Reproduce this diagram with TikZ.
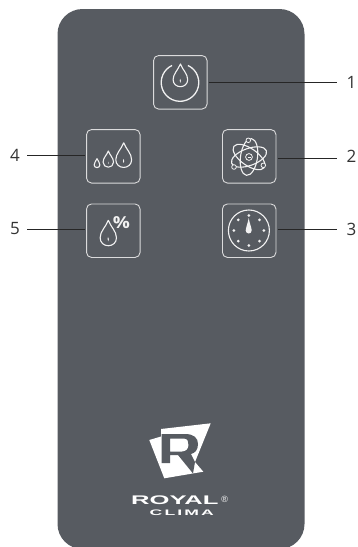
\documentclass[tikz,border=0pt]{standalone}
\usepackage{fontspec}
\setsansfont{Open Sans}
\newfontfamily\logofont{Liberation Sans}
\definecolor{panelgray}{HTML}{575B61}
\definecolor{iconwhite}{HTML}{F2F2F2}
\tikzset{
  panel/.style={fill=panelgray, rounded corners=25pt},
  keybox/.style={draw=iconwhite!85!panelgray, line width=0.9pt, rounded corners=5pt,
    minimum size=53.5pt, inner sep=0pt, outer sep=1.6pt},
  numlabel/.style={font=\sffamily\fontsize{17}{17}\selectfont, text=black!80, inner sep=0pt},
  leader/.style={draw=black!85, line width=0.8pt},
  iconline/.style={draw=iconwhite, line width=1.1pt},
  logotext/.style={text=white, inner sep=0pt},
  pics/drop/.style={code={
    \draw[iconline, line join=round] (0,-1) .. controls (0.18,-0.55) and (0.52,-0.3) .. (0.52,0.12)
      .. controls (0.52,0.42) and (0.28,0.62) .. (0,0.62)
      .. controls (-0.28,0.62) and (-0.52,0.42) .. (-0.52,0.12)
      .. controls (-0.52,-0.3) and (-0.18,-0.55) .. cycle;
    \fill[iconwhite] (-0.02,0.05) .. controls (0.02,0.15) and (0.08,0.25) .. (0,0.34)
      .. controls (-0.07,0.25) and (-0.05,0.15) .. cycle;
  }}
}
\begin{document}
\begin{tikzpicture}[x=1pt, y=-1pt]
  \useasboundingbox (0,0) rectangle (358,547);
  % body of the remote
  \fill[panel] (57.5,9) rectangle (304.5,549);

  % keys
  \node[keybox] (keypower) at (180.3,82.3) {};
  \node[keybox] (keyion) at (249.2,156.3) {};
  \node[keybox] (keytimer) at (249.2,230.7) {};
  \node[keybox] (keyfan) at (113.3,156.3) {};
  \node[keybox] (keyhum) at (113.3,230.7) {};

  % numbers
  \node[numlabel, anchor=west] (num1) at (346.5,82) {1};
  \node[numlabel, anchor=west] (num2) at (346.5,156) {2};
  \node[numlabel, anchor=west] (num3) at (346.5,229) {3};
  \node[numlabel, anchor=east] (num4) at (20,155) {4};
  \node[numlabel, anchor=east] (num5) at (20,229) {5};

  \coordinate (end1) at (337,82.7);
  \coordinate (end2) at (337,158.3);
  \coordinate (end3) at (337,229);
  \coordinate (end4) at (27,155);
  \coordinate (end5) at (27,229);
  \draw[leader] (keypower.east |- end1) -- (end1);
  \draw[leader] (keyion.east |- end2) -- (end2);
  \draw[leader] (keytimer.east |- end3) -- (end3);
  \draw[leader] (keyfan.west |- end4) -- (end4);
  \draw[leader] (keyhum.west |- end5) -- (end5);

  % power icon
  \draw[iconline, line width=1.3pt] (180,82.5) ++(-65:18.8) arc[start angle=-65, end angle=245, radius=18.8];
  \pic[scale=14] at (180.4,78) {drop};

  % drops
  \pic[scale=5.5] at (97,164.2) {drop};
  \pic[scale=10] at (108.3,161) {drop};
  \pic[scale=15.2] at (123.7,158) {drop};

  % humidity
  \pic[scale=15.7] at (108.3,236) {drop};
  \node[font=\sffamily\bfseries\fontsize{16.5}{16.5}\selectfont, text=iconwhite, inner sep=0pt] (percent) at (121.5,222.8) {\scalebox{1.15}[1]{\%}};

  % timer
  \draw[iconline] (248.9,230.5) circle[radius=20.5];
  \foreach \a in {0,45,...,315}
    \fill[iconwhite] (248.9,230.5) ++(\a:15) circle[radius=1.5];
  \fill[iconwhite] (248.7,218) .. controls (249.5,223) and (251.7,228) .. (251.7,230.5)
    arc[start angle=0, end angle=180, radius=3]
    .. controls (245.7,228) and (247.9,223) .. cycle;

  % atom
  \begin{scope}[shift={(249,157)}]
    \foreach \a in {20,82,145}
      \draw[iconline, rotate=\a] (0,0) ellipse[x radius=18.5, y radius=8.5];
    \fill[panelgray] (0,0) circle[radius=3.8];
    \draw[iconline, line width=0.8pt] (0,0) circle[radius=3.4];
    \draw[iconwhite, line width=0.7pt] (-1.5,0) -- (1.5,0);
    \foreach \px/\py in {-0.7/-16.7, -15/10, 14.3/8.3} {
      \fill[panelgray] (\px,\py) circle[radius=2.3];
      \draw[iconline, line width=0.8pt] (\px,\py) circle[radius=2.3];
    }
  \end{scope}

  % logo
  \fill[white] (149.3,440) -- (161,436.5) -- (161,429) -- (210.7,423.3) -- (195,462)
    -- (203.3,471.7) -- (164.3,478.3) -- cycle;
  \fill[panelgray, even odd rule] (161.5,434) -- (185,434)
    .. controls (194,434) and (198,438) .. (198,444)
    .. controls (198,450) and (195,453) .. (191,454)
    -- (195,462) -- (193,473.5) -- (178,455) -- (170,455) -- (170,463) -- (161.5,463) -- cycle
    (170,438.5) -- (184,438.5) .. controls (188,438.5) and (188.5,442) .. (188.5,445)
    .. controls (188.5,449) and (186,451.5) .. (182,451.5) -- (170,451.5) -- cycle;
  \node[logotext, font=\logofont\bfseries\fontsize{12.5}{12.5}\selectfont] (logoname) at (174.9,500.5) {\scalebox{2.05}[1]{ROYAL}};
  \node[logotext, font=\logofont\fontsize{9}{9}\selectfont] (logoreg) at (224.7,499.5) {®};
  \node[logotext, font=\logofont\bfseries\fontsize{8}{8}\selectfont] (logosub) at (181.8,513) {\scalebox{2.2}[1]{\addfontfeature{LetterSpace=12}CLIMA}};
\end{tikzpicture}
\end{document}
